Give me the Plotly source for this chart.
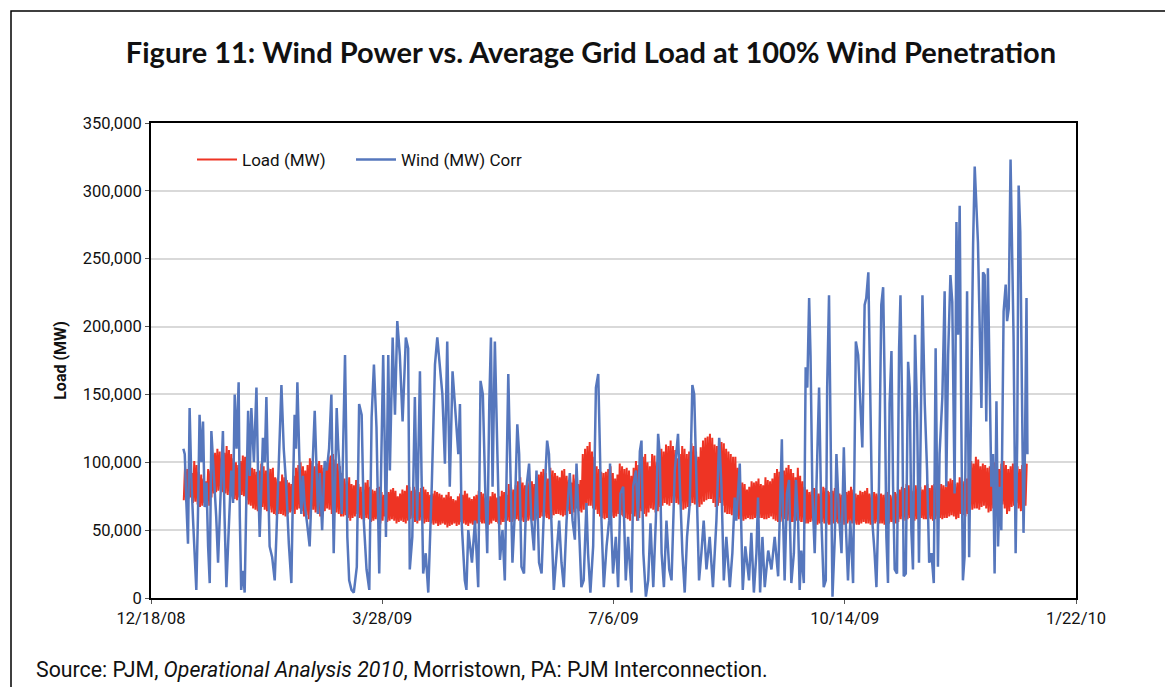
import pandas as pd
import plotly.graph_objects as go

# ---------------- data (values in thousands of MW) ----------------
start_date = "2009-01-01"
low_hour, high_hour = 4, 17          # typical time of daily minimum / maximum load

# Daily minimum load (lower edge of the red band), one value per day of 2009
load_low_k = [
    72, 71, 73, 74, 70, 71, 69, 67, 68, 70, 69, 68, 74, 77,
    78, 79, 80, 78, 77, 76, 74, 75, 73, 72, 74, 76, 75, 72,
    69, 68, 66, 65, 64, 66, 67, 65, 64, 65, 63, 62, 61, 62,
    62, 61, 60, 62, 63, 64, 62, 65, 66, 64, 60, 61, 58, 62,
    65, 63, 62, 60, 62, 64, 66, 65, 62, 60, 63, 62, 60, 60,
    61, 59, 57, 59, 60, 62, 59, 58, 57, 59, 58, 56, 57, 58,
    56, 55, 57, 60, 56, 57, 58, 57, 55, 56, 57, 56, 55, 57,
    58, 59, 56, 55, 57, 57, 55, 56, 56, 55, 54, 55, 53, 54,
    55, 54, 52, 53, 54, 55, 53, 54, 56, 55, 54, 53, 55, 54,
    54, 55, 56, 55, 55, 54, 54, 55, 57, 56, 55, 54, 56, 56,
    57, 56, 56, 57, 58, 57, 57, 56, 56, 57, 58, 57, 57, 58,
    59, 60, 60, 59, 58, 59, 61, 62, 62, 61, 60, 61, 64, 62,
    61, 63, 66, 64, 63, 65, 67, 68, 68, 66, 65, 62, 60, 59,
    58, 59, 61, 60, 59, 60, 62, 61, 60, 59, 58, 57, 62, 60,
    57, 59, 64, 62, 60, 63, 66, 65, 63, 64, 67, 68, 70, 69,
    68, 70, 71, 70, 69, 67, 65, 66, 67, 68, 70, 69, 66, 67,
    69, 71, 72, 73, 73, 70, 67, 68, 70, 68, 63, 62, 62, 61,
    61, 60, 58, 57, 57, 58, 59, 58, 58, 59, 60, 59, 59, 58,
    58, 59, 60, 58, 57, 56, 56, 57, 58, 57, 57, 56, 56, 57,
    57, 56, 56, 55, 55, 56, 57, 55, 54, 55, 56, 55, 55, 54,
    54, 55, 56, 55, 55, 54, 54, 55, 56, 55, 55, 54, 54, 55,
    56, 55, 55, 54, 54, 55, 56, 55, 55, 54, 55, 55, 56, 55,
    55, 56, 58, 57, 57, 58, 59, 58, 57, 58, 60, 59, 58, 58,
    59, 58, 57, 58, 60, 59, 58, 59, 59, 60, 61, 60, 58, 59,
    62, 61, 60, 62, 64, 65, 66, 66, 65, 67, 68, 66, 63, 64,
    66, 65, 64, 67, 69, 66, 62, 64, 67, 68, 70, 66, 64, 66,
    68,
]

# Daily maximum load (upper edge of the red band)
load_high_k = [
    97, 95, 90, 92, 101, 98, 93, 91, 88, 86, 95, 94, 104, 107,
    110, 108, 104, 107, 112, 109, 106, 103, 100, 98, 101, 105, 104, 98,
    97, 96, 95, 93, 94, 99, 97, 94, 96, 95, 96, 89, 88, 86,
    91, 89, 87, 85, 84, 90, 96, 98, 100, 97, 94, 98, 103, 101,
    97, 99, 101, 98, 96, 99, 104, 105, 106, 102, 99, 97, 92, 88,
    86, 89, 84, 83, 87, 84, 82, 80, 85, 87, 82, 80, 79, 81,
    82, 78, 76, 79, 78, 80, 81, 79, 75, 77, 80, 79, 83, 82,
    79, 82, 80, 78, 81, 82, 80, 78, 76, 77, 79, 78, 77, 76,
    74, 76, 78, 75, 73, 72, 75, 77, 76, 79, 77, 74, 73, 75,
    76, 79, 78, 77, 74, 73, 75, 78, 77, 74, 75, 79, 78, 76,
    84, 82, 80, 83, 86, 89, 85, 83, 85, 88, 86, 84, 89, 91,
    93, 95, 92, 88, 96, 94, 92, 90, 89, 94, 95, 90, 87, 85,
    91, 88, 84, 87, 106, 110, 112, 115, 108, 104, 97, 95, 93, 92,
    93, 95, 97, 92, 88, 91, 99, 97, 95, 96, 94, 90, 96, 101,
    98, 102, 104, 106, 100, 97, 106, 105, 100, 103, 110, 108, 113, 112,
    116, 112, 109, 103, 106, 112, 110, 106, 108, 114, 112, 108, 104, 111,
    116, 118, 119, 121, 118, 113, 112, 117, 115, 114, 110, 108, 106, 104,
    104, 96, 87, 85, 84, 80, 82, 86, 85, 86, 88, 84, 83, 89,
    87, 86, 88, 92, 95, 93, 90, 94, 96, 98, 95, 92, 89, 96,
    90, 86, 82, 80, 78, 79, 81, 80, 77, 78, 82, 81, 79, 78,
    79, 81, 80, 77, 76, 80, 78, 79, 82, 80, 77, 76, 79, 78,
    79, 81, 77, 76, 78, 77, 76, 77, 76, 77, 78, 76, 75, 78,
    77, 80, 82, 81, 84, 83, 81, 79, 83, 84, 82, 80, 83, 84,
    81, 83, 84, 82, 80, 84, 83, 82, 86, 88, 87, 84, 85, 89,
    89, 86, 88, 96, 101, 99, 104, 102, 97, 99, 98, 96, 97, 100,
    100, 96, 95, 99, 101, 98, 95, 97, 99, 100, 97, 95, 98, 100,
    99,
]

# Wind: observation time (days after 1 Jan 2009) and value (thousand MW)
wind_day = [
    0.0, 0.6, 1.3, 2.0, 2.7, 3.4, 4.2, 5.6, 6.3, 7.0,
    7.8, 8.5, 9.2, 10.0, 10.7, 11.4, 12.1, 13.5, 14.2, 15.0,
    16.0, 17.1, 17.8, 18.6, 19.6, 20.7, 21.5, 22.2, 23.0, 23.9,
    24.4, 25.0, 25.8, 26.5, 27.3, 28.0, 28.7, 29.4, 30.5, 31.6,
    32.3, 33.0, 33.7, 34.4, 35.2, 35.9, 36.6, 37.3, 38.4, 39.5,
    40.2, 40.9, 41.7, 42.4, 43.4, 44.5, 45.6, 46.7, 47.4, 48.1,
    48.7, 49.3, 50.2, 51.0, 51.7, 52.4, 53.5, 54.6, 55.7, 56.8,
    57.5, 58.2, 59.0, 60.0, 61.1, 62.0, 63.0, 64.0, 65.0, 65.7,
    66.3, 67.0, 67.7, 68.5, 69.9, 70.4, 70.9, 71.7, 72.7, 73.7,
    75.0, 76.0, 77.1, 78.0, 79.2, 80.4, 81.4, 82.4, 83.5, 84.7,
    85.5, 86.4, 87.0, 87.6, 88.6, 89.3, 90.5, 91.5, 92.5, 93.6,
    94.8, 96.2, 97.2, 97.9, 99.0, 100.1, 101.1, 102.3, 103.0, 103.7,
    104.8, 105.9, 107.4, 108.8, 109.8, 110.9, 112.0, 113.1, 114.1, 115.2,
    116.4, 117.4, 118.9, 119.6, 120.3, 121.7, 122.4, 123.2, 124.8, 126.1,
    127.5, 128.5, 129.5, 130.5, 131.4, 132.3, 133.0, 133.7, 134.7, 135.8,
    136.9, 138.0, 139.0, 140.5, 141.4, 142.3, 143.3, 144.4, 145.2, 146.2,
    147.3, 148.4, 149.5, 150.5, 151.6, 152.7, 153.8, 154.9, 156.3, 157.3,
    158.1, 159.2, 160.2, 161.4, 162.5, 163.5, 164.5, 165.7, 167.1, 168.3,
    169.3, 170.0, 171.1, 172.1, 173.1, 174.3, 175.0, 176.0, 177.2, 178.4,
    179.4, 180.1, 180.8, 181.8, 183.0, 184.1, 184.5, 185.1, 185.8, 187.0,
    188.0, 189.0, 190.2, 191.3, 192.3, 193.8, 194.5, 195.7, 196.6, 197.4,
    198.1, 198.9, 200.0, 201.0, 202.0, 203.2, 204.3, 205.3, 206.0, 206.8,
    207.8, 208.9, 210.1, 211.1, 212.5, 213.9, 214.7, 215.8, 216.8, 217.8,
    219.0, 220.1, 220.9, 221.9, 223.0, 224.0, 225.0, 226.2, 227.6, 229.0,
    230.5, 231.7, 232.7, 233.7, 234.8, 236.3, 237.4, 238.4, 239.1, 240.6,
    241.4, 241.9, 243.0, 244.6, 245.6, 246.7, 247.8, 248.5, 249.4, 250.4,
    251.4, 252.9, 254.3, 255.7, 257.2, 258.2, 258.8, 259.3, 260.0, 261.0,
    261.9, 262.9, 264.0, 264.9, 265.8, 266.5, 267.2, 268.3, 269.1, 269.8,
    270.6, 271.2, 272.0, 273.0, 274.0, 274.9, 275.9, 276.9, 277.8, 278.4,
    279.2, 279.8, 280.7, 281.7, 282.4, 283.5, 284.6, 285.6, 286.4, 287.4,
    288.4, 289.6, 290.8, 291.8, 292.8, 293.6, 294.6, 295.3, 296.2, 297.0,
    297.9, 298.9, 299.7, 300.8, 301.8, 302.6, 303.3, 304.0, 304.7, 305.4,
    306.2, 306.9, 307.6, 308.6, 309.5, 310.1, 310.9, 311.5, 312.4, 313.4,
    314.1, 314.8, 315.5, 316.4, 317.3, 318.1, 319.0, 319.6, 320.6, 321.6,
    322.5, 323.5, 324.5, 325.3, 326.3, 327.0, 328.2, 329.2, 329.9, 330.7,
    331.7, 332.5, 333.5, 334.3, 335.0, 335.7, 336.4, 337.1, 337.8, 338.9,
    339.8, 340.7, 341.5, 342.2, 342.9, 343.6, 344.3, 345.1, 345.8, 346.5,
    347.2, 347.9, 348.6, 349.4, 350.1, 350.8, 351.6, 352.3, 353.0, 353.7,
    354.7, 355.6, 356.2, 356.9, 357.7, 358.3, 359.0, 359.9, 360.6, 361.2,
    361.9, 362.6, 363.3, 363.9, 364.6, 365.0,
]
wind_k = [
    110, 106, 70, 40, 140, 90, 57, 6, 60, 135,
    100, 130, 67, 85, 38, 11, 123, 82, 60, 26,
    70, 123, 60, 8, 50, 94, 70, 150, 110, 159,
    60, 6, 20, 4, 80, 138, 90, 140, 100, 155,
    90, 45, 80, 118, 100, 148, 90, 38, 30, 13,
    45, 77, 120, 157, 110, 82, 40, 11, 80, 135,
    110, 159, 100, 62, 90, 70, 55, 38, 90, 138,
    100, 62, 92, 50, 101, 94, 110, 150, 33, 90,
    140, 110, 92, 62, 179, 120, 45, 13, 6, 4,
    23, 143, 135, 57, 21, 6, 133, 172, 126, 18,
    90, 179, 120, 45, 179, 94, 192, 135, 204, 179,
    130, 192, 184, 21, 45, 148, 57, 167, 90, 18,
    33, 4, 82, 172, 192, 170, 150, 99, 189, 82,
    167, 143, 106, 143, 57, 13, 6, 50, 26, 57,
    8, 160, 150, 82, 33, 145, 192, 82, 189, 106,
    28, 50, 13, 165, 82, 26, 62, 128, 106, 23,
    18, 82, 99, 57, 35, 94, 26, 18, 82, 116,
    106, 50, 6, 33, 57, 26, 8, 57, 92, 57,
    43, 99, 57, 8, 13, 70, 33, 4, 38, 155,
    165, 106, 57, 8, 38, 57, 99, 50, 18, 45,
    8, 77, 82, 13, 45, 4, 82, 94, 57, 108,
    116, 33, 1, 13, 55, 8, 57, 121, 106, 33,
    8, 57, 21, 13, 94, 121, 82, 33, 4, 45,
    70, 157, 150, 82, 13, 33, 57, 21, 45, 8,
    57, 118, 82, 13, 45, 8, 33, 74, 57, 99,
    33, 6, 38, 13, 48, 4, 33, 74, 4, 45,
    8, 35, 21, 45, 16, 77, 117, 62, 13, 77,
    87, 11, 33, 87, 57, 6, 35, 11, 170, 155,
    221, 179, 77, 33, 94, 155, 57, 8, 13, 155,
    223, 130, 1, 45, 106, 62, 33, 111, 57, 13,
    57, 11, 189, 179, 143, 111, 216, 221, 240, 155,
    57, 33, 8, 82, 216, 229, 155, 45, 11, 143,
    182, 82, 21, 18, 184, 223, 130, 16, 18, 174,
    155, 50, 21, 194, 135, 26, 155, 223, 143, 94,
    26, 33, 11, 184, 23, 106, 148, 226, 82, 179,
    238, 218, 77, 277, 194, 289, 130, 13, 30, 226,
    30, 179, 260, 318, 292, 262, 204, 140, 240, 238,
    130, 243, 167, 82, 106, 18, 145, 38, 82, 50,
    211, 231, 204, 213, 323, 272, 192, 33, 118, 304,
    270, 155, 48, 106, 221, 106,
]

x_tick_dates = ["2008-12-18", "2009-03-28", "2009-07-06", "2009-10-14", "2010-01-22"]
x_tick_labels = ["12/18/08", "3/28/09", "7/6/09", "10/14/09", "1/22/10"]
y_tick_values = [0, 50000, 100000, 150000, 200000, 250000, 300000, 350000]
y_tick_labels = ["0", "50,000", "100,000", "150,000", "200,000", "250,000", "300,000", "350,000"]

title_text = "Figure 11: Wind Power vs. Average Grid Load at 100% Wind Penetration"
source_text = ("Source: PJM, <i>Operational Analysis 2010</i>, Morristown, PA: "
               "PJM Interconnection.")

# ---------------- build ----------------
base = pd.Timestamp(start_date)
load_x, load_y = [], []
for i, (lo, hi) in enumerate(zip(load_low_k, load_high_k)):
    day = base + pd.Timedelta(days=i)
    load_x += [day + pd.Timedelta(hours=low_hour), day + pd.Timedelta(hours=high_hour)]
    load_y += [lo * 1000, hi * 1000]

n = min(len(wind_day), len(wind_k))
wind_x = [base + pd.Timedelta(days=d) for d in wind_day[:n]]
wind_y = [v * 1000 for v in wind_k[:n]]

FONT = "Roboto, Liberation Sans, sans-serif"
RED = "#EE3424"
BLUE = "#5677BD"

# page body has an 8px margin; figure placed inside it
OFF = 8
W, H = 1173 - 2 * OFF, 695 - 2 * OFF
L, T = 151 - OFF, 123 - OFF
R = W - (1076 - OFF)
B = H - (598 - OFF)
pw, ph = W - L - R, H - T - B


def fx(p):
    """screen x pixel -> paper x"""
    return (p - OFF - L) / pw


def fy(p):
    """screen y pixel -> paper y"""
    return (H - B - (p - OFF)) / ph


fig = go.Figure()
fig.add_trace(go.Scatter(x=load_x, y=load_y, mode="lines", name="Load (MW)",
                         line=dict(color=RED, width=2.0), legend="legend"))
fig.add_trace(go.Scatter(x=wind_x, y=wind_y, mode="lines", name="Wind (MW) Corr",
                         line=dict(color=BLUE, width=2.5), legend="legend2"))

legend_common = dict(orientation="h", xanchor="left", yanchor="middle",
                     font=dict(family=FONT, size=17, color="#111"),
                     bgcolor="rgba(0,0,0,0)", itemwidth=40)

fig.update_layout(
    width=W, height=H,
    margin=dict(l=L, r=R, t=T, b=B, autoexpand=False),
    paper_bgcolor="white", plot_bgcolor="white",
    showlegend=True,
    legend=dict(x=fx(192), y=fy(160), **legend_common),
    legend2=dict(x=fx(351), y=fy(160), **legend_common),
    title=dict(text="<b>" + title_text + "</b>", x=0.5 + (591 - 8 - W / 2) / W,
               xanchor="center", y=1 - (53 - OFF) / H, yanchor="middle",
               font=dict(family="Lato, Open Sans, sans-serif", size=29, color="#111")),
    xaxis=dict(type="date", range=[x_tick_dates[0], x_tick_dates[-1]],
               tickvals=x_tick_dates, ticktext=x_tick_labels,
               showgrid=False, showline=True, linecolor="black", linewidth=2,
               mirror=True, ticks="outside", ticklen=4, tickcolor="#555",
               tickfont=dict(family=FONT, size=16.5, color="#111"), zeroline=False),
    yaxis=dict(range=[0, 350000], tickvals=y_tick_values, ticktext=y_tick_labels,
               showgrid=True, gridcolor="#d9d9d9", gridwidth=1.5,
               showline=True, linecolor="black", linewidth=2, mirror=True,
               ticks="outside", ticklen=4, tickcolor="#555",
               tickfont=dict(family=FONT, size=16.5, color="#111"), zeroline=False,
               title=dict(text="<b>Load (MW)</b>", standoff=12,
                          font=dict(family=FONT, size=16, color="#111"))),
    shapes=[dict(type="rect", xref="paper", yref="paper",
                 x0=fx(11), y0=fy(760), x1=fx(1260), y1=fy(11),
                 line=dict(color="black", width=1.5), fillcolor="rgba(0,0,0,0)",
                 layer="below")],
    annotations=[dict(text=source_text, xref="paper", yref="paper",
                      x=fx(34), y=fy(669), xanchor="left", yanchor="middle",
                      showarrow=False,
                      font=dict(family=FONT, size=21.3, color="#111"))],
)

fig.write_html("out.html")
